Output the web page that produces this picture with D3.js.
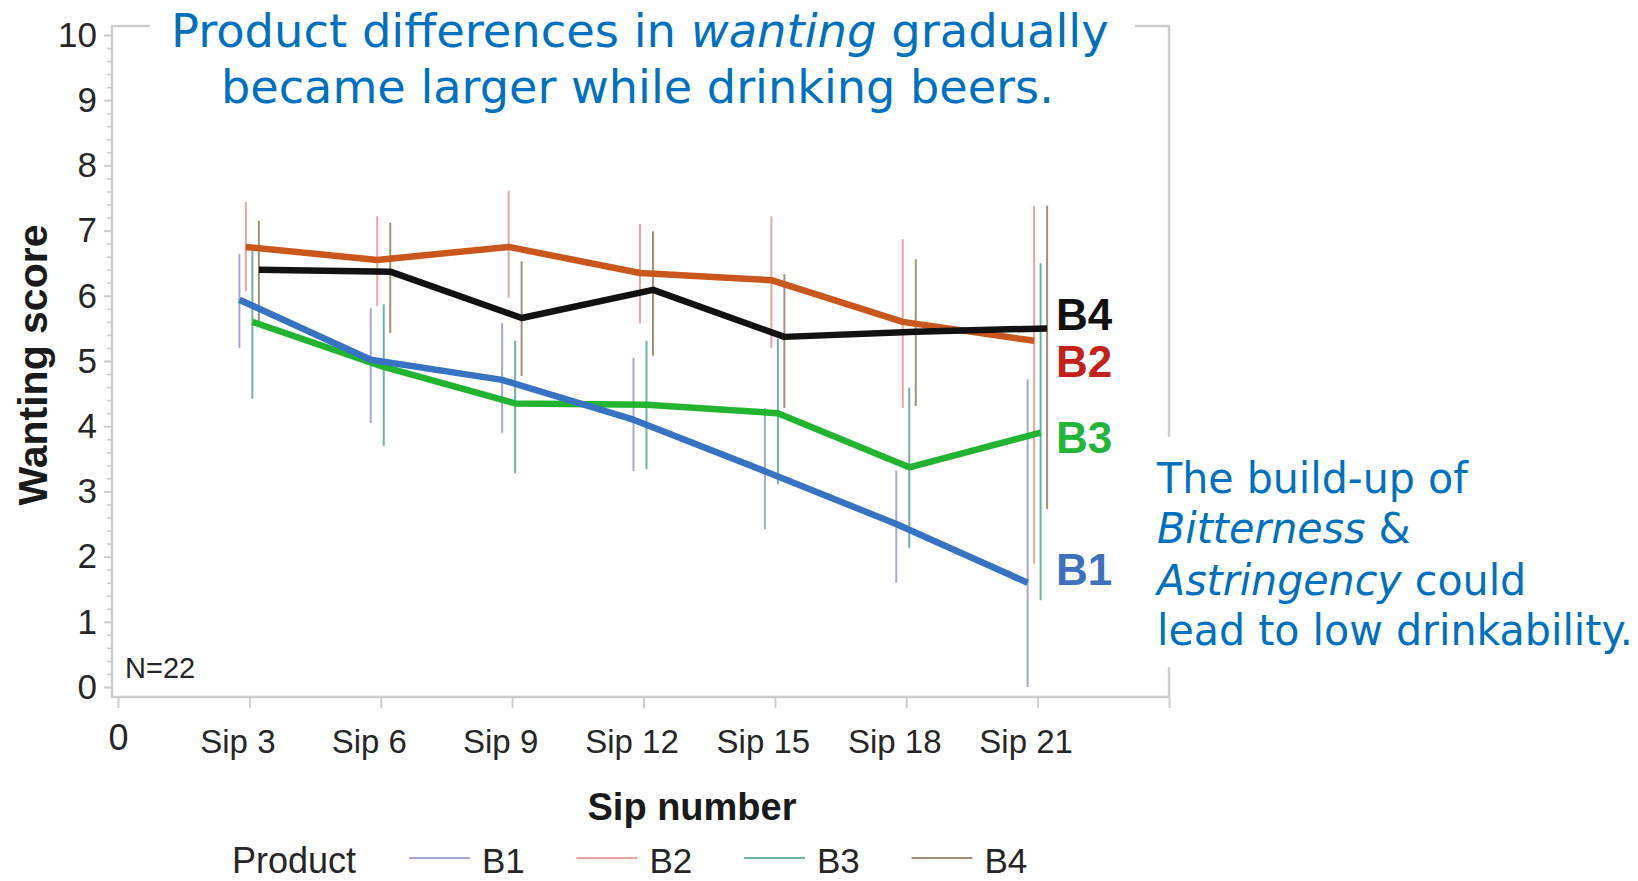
<!DOCTYPE html>
<html>
<head>
<meta charset="utf-8">
<title>Wanting score by sip number</title>
<script src="https://cdn.jsdelivr.net/npm/d3@7"></script>
<style>
	body { margin: 0; background: white; }
	svg { display: block; }
</style>
</head>
<body>
<div id="graph"></div>
<script>
let width = 1638;
let height = 881;

// Categories on the x axis (sit at positions 1..7, frame runs 0..8):
let sipLabels = ["Sip 3", "Sip 6", "Sip 9", "Sip 12", "Sip 15", "Sip 18", "Sip 21"];
let products = ["B1", "B2", "B3", "B4"];
let yTicks = [0, 1, 2, 3, 4, 5, 6, 7, 8, 9, 10];

// Mean wanting score, one value per sip:
let meanB1 = [5.94, 5.02, 4.71, 4.10, 3.31, 2.50, 1.60];
let meanB2 = [6.75, 6.55, 6.75, 6.35, 6.24, 5.60, 5.31];
let meanB3 = [5.60, 4.91, 4.35, 4.33, 4.20, 3.37, 3.90];
let meanB4 = [6.40, 6.37, 5.66, 6.09, 5.37, 5.45, 5.50];

// Error bar ends:
let lowB1  = [5.20, 4.05, 3.90, 3.31, 2.42, 1.60, 0.00];
let highB1 = [6.64, 5.81, 5.58, 5.05, 4.28, 3.32, 4.72];
let lowB2  = [6.07, 5.84, 5.97, 5.58, 5.20, 4.28, 1.89];
let highB2 = [7.44, 7.22, 7.61, 7.10, 7.22, 6.87, 7.38];
let lowB3  = [4.42, 3.70, 3.28, 3.34, 3.11, 2.13, 1.33];
let highB3 = [6.69, 5.87, 5.31, 5.31, 5.34, 4.59, 6.50];
let lowB4  = [5.54, 5.43, 4.77, 5.08, 4.28, 4.31, 2.73];
let highB4 = [7.15, 7.12, 6.53, 6.99, 6.33, 6.56, 7.38];

// Table built from the arrays above:
let series = [
	{ name: "B1", mean: meanB1, low: lowB1, high: highB1 },
	{ name: "B2", mean: meanB2, low: lowB2, high: highB2 },
	{ name: "B3", mean: meanB3, low: lowB3, high: highB3 },
	{ name: "B4", mean: meanB4, low: lowB4, high: highB4 }
	];

// Styles:
let lineColour = { B1: "#3872c2", B2: "#c9561b", B3: "#22b430", B4: "#111111" };
let barColour = { B1: "#a4a7db", B2: "#e6a69e", B3: "#70b2a2", B4: "#a58f77" };
let labelColour = { B1: "#3d70bd", B2: "#c4201c", B3: "#23b53a", B4: "#111111" };
let labelBaseline = { B1: 585, B2: 377, B3: 453, B4: 330 };
let frameColour = "#cdcdcd";
let inkColour = "#262626";
let sansFont = "'Liberation Sans', Arial, sans-serif";
let noteFont = "'DejaVu Sans', Verdana, sans-serif";
let noteColour = "#0070c0";

let frame = { left: 112, top: 26, bottom: 697 };

let xScale = d3.scaleLinear()
	.domain([0, sipLabels.length + 1])
	.range([118, 1169])
	;
let yScale = d3.scaleLinear()
	.domain([0, 10])
	.range([687, 35])
	;
// Products are dodged a little around each sip:
let dodge = d3.scalePoint()
	.domain(products)
	.range([-10, 9.5])
	;


let svg = d3.select("#graph")
	.append("svg")
		.attr("width", width)
		.attr("height", height)
	;

// Frame round the plot:
svg
	.append("path")
		.attr("d", `M${frame.left},${frame.top} H${xScale.range()[1]} V${frame.bottom} H${frame.left} Z`)
		.attr("fill", "none")
		.attr("stroke", frameColour)
		.attr("stroke-width", 2.5)
	;


// Minor ticks on the y axis:
let yMinor = d3.axisLeft(yScale)
	.tickValues(d3.range(0, 10.01, 0.2))
	.tickSize(5)
	.tickFormat("")
	;
svg
	.append("g")
		.attr("transform", `translate(${frame.left}, 0)`)
		.call(yMinor)
		.call(g => g.select(".domain").remove())
		.call(g => g.selectAll("line").attr("stroke", frameColour).attr("stroke-width", 1.6))
	;

// Add yAxis
let yAxis = d3.axisLeft(yScale)
	.tickValues(yTicks)
	.tickSize(8)
	.tickPadding(7)
	;
svg
	.append("g")
		.attr("id", "yAxis")
		.attr("transform", `translate(${frame.left}, 0)`)
		.call(yAxis)
		.call(g => g.select(".domain").remove())
		.call(g => g.selectAll("line").attr("stroke", frameColour).attr("stroke-width", 2))
		.call(g => g.selectAll("text")
			.attr("fill", inkColour)
			.style("font-family", sansFont)
			.style("font-size", "35px"))
	;

// Add xAxis (0 at the origin, sips at 1..7, blank tick at the right frame)
let xAxis = d3.axisBottom(xScale)
	.tickValues(d3.range(0, sipLabels.length + 2))
	.tickSize(11)
	.tickFormat(i => i === 0 ? "0" : (sipLabels[i - 1] || ""))
	;
svg
	.append("g")
		.attr("id", "xAxis")
		.attr("transform", `translate(0, ${frame.bottom})`)
		.call(xAxis)
		.call(g => g.select(".domain").remove())
		.call(g => g.selectAll("line").attr("stroke", frameColour).attr("stroke-width", 2))
		.call(g => g.selectAll("text")
			.attr("fill", inkColour)
			.attr("dy", 0)
			.attr("y", i => i === 0 ? 53 : 56)
			.attr("dx", i => i === 0 ? 0 : -12)
			.style("font-family", sansFont)
			.style("font-size", i => i === 0 ? "36px" : "33px"))
	;

// Axis titles:
svg
	.append("text")
		.attr("x", 692)
		.attr("y", 820)
		.attr("text-anchor", "middle")
		.attr("fill", "#1a1a1a")
		.style("font-family", sansFont)
		.style("font-size", "38px")
		.style("font-weight", "bold")
		.text("Sip number")
	;
svg
	.append("text")
		.attr("transform", "translate(47, 365) rotate(-90)")
		.attr("text-anchor", "middle")
		.attr("fill", "#1a1a1a")
		.style("font-family", sansFont)
		.style("font-size", "41px")
		.style("font-weight", "bold")
		.text("Wanting score")
	;
svg
	.append("text")
		.attr("x", 125)
		.attr("y", 678)
		.attr("fill", inkColour)
		.style("font-family", sansFont)
		.style("font-size", "29px")
		.text("N=22")
	;


// Thin error bars, one per product and sip:
series.forEach(s => {
	svg
		.append("g")
			.selectAll("line")
			.data(s.mean)
			.enter()
			.append("line")
				.attr("x1", (d, i) => xScale(i + 1) + dodge(s.name))
				.attr("x2", (d, i) => xScale(i + 1) + dodge(s.name))
				.attr("y1", (d, i) => yScale(s.low[i]))
				.attr("y2", (d, i) => yScale(s.high[i]))
				.attr("stroke", barColour[s.name])
				.attr("stroke-width", 2)
		;
	});

// Thick mean lines (drawn B3, B1, B2, B4 so black sits on top):
let meanLine = name => d3.line()
	.x((d, i) => xScale(i + 1) + dodge(name))
	.y(d => yScale(d))
	;
["B3", "B1", "B2", "B4"].forEach(name => {
	let s = series.find(d => d.name === name);
	svg
		.append("path")
			.attr("d", meanLine(name)(s.mean))
			.attr("fill", "none")
			.attr("stroke", lineColour[name])
			.attr("stroke-width", 6.5)
			.attr("stroke-linejoin", "round")
		;
	});

// Product labels at the line ends:
svg
	.selectAll(".endLabel")
	.data(products)
	.enter()
	.append("text")
		.attr("class", "endLabel")
		.attr("x", 1056)
		.attr("y", d => labelBaseline[d])
		.attr("fill", d => labelColour[d])
		.style("font-family", sansFont)
		.style("font-size", "44px")
		.style("font-weight", "bold")
		.text(d => d)
	;


// Legend:
let legend = svg
	.append("g")
		.attr("id", "legend")
	;
legend
	.append("text")
		.attr("x", 232)
		.attr("y", 873)
		.attr("fill", inkColour)
		.style("font-family", sansFont)
		.style("font-size", "36px")
		.text("Product")
	;
products.forEach((p, j) => {
	let x0 = 409 + j * 167.5;
	legend
		.append("line")
			.attr("x1", x0)
			.attr("x2", x0 + 61)
			.attr("y1", 858)
			.attr("y2", 858)
			.attr("stroke", barColour[p])
			.attr("stroke-width", 2)
		;
	legend
		.append("text")
			.attr("x", x0 + 73)
			.attr("y", 873)
			.attr("fill", inkColour)
			.style("font-family", sansFont)
			.style("font-size", "35px")
			.text(p)
		;
	});


// Blue notes, squeezed sideways to the width they have in the picture:
function addNote(x, y, size, parts, sx) {
	let g = svg.append("g");
	let t = g
		.append("text")
			.attr("fill", noteColour)
			.style("font-family", noteFont)
			.style("font-size", `${size}px`)
		;
	parts.forEach(p => {
		t.append("tspan")
			.style("font-style", p[1] ? "italic" : "normal")
			.text(p[0]);
		});
	g.attr("transform", `translate(${x}, ${y}) scale(${sx}, 1)`);
	return t.node().getComputedTextLength();
	}

// White boxes hide the frame behind the notes:
svg
	.append("rect")
		.attr("x", 150)
		.attr("y", 0)
		.attr("width", 985)
		.attr("height", 118)
		.attr("fill", "white")
	;
svg
	.append("rect")
		.attr("x", 1148)
		.attr("y", 437)
		.attr("width", 490)
		.attr("height", 230)
		.attr("fill", "white")
	;

// Measure first at scale 1, then squeeze to the target width:
let titleParts = [
	[[["Product differences in ", false], ["wanting", true], [" gradually", false]], 171, 47, 938],
	[[["became larger while drinking beers.", false]], 221, 103, 833]
	];
titleParts.forEach(tp => {
	let probe = svg.append("g");
	let w = addNote(0, -100, 46, tp[0], 1);
	svg.selectAll("g").filter(function() { return d3.select(this).attr("transform") === "translate(0, -100) scale(1, 1)"; }).remove();
	addNote(tp[1], tp[2], 46, tp[0], tp[3] / w);
	probe.remove();
	});

let sideLines = [
	[[["The build-up of", false]], 493],
	[[["Bitterness", true], [" &", false]], 543],
	[[["Astringency", true], [" could", false]], 595],
	[[["lead to low drinkability.", false]], 645]
	];
let sideWidth = addNote(0, -100, 42, sideLines[3][0], 1);
svg.selectAll("g").filter(function() { return d3.select(this).attr("transform") === "translate(0, -100) scale(1, 1)"; }).remove();
let sideScale = 476 / sideWidth;
sideLines.forEach(sl => addNote(1157, sl[1], 42, sl[0], sideScale));
</script>
</body>
</html>
